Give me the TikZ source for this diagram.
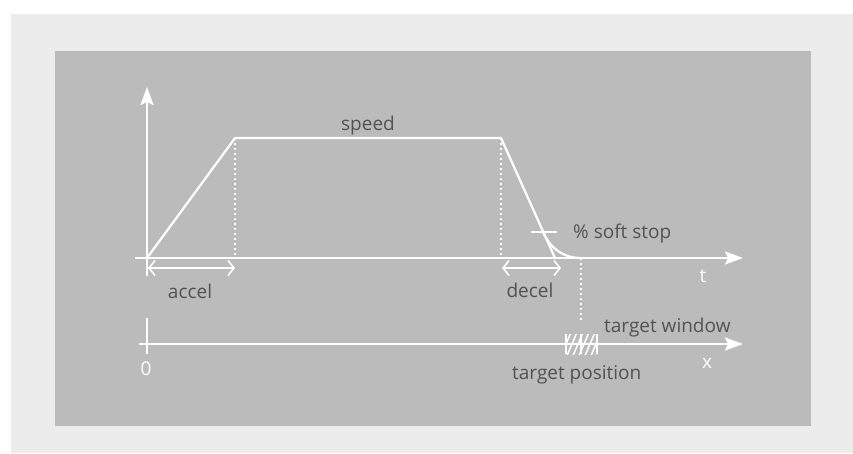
\documentclass[tikz,border=0pt]{standalone}
\usepackage{fontspec}
\setmainfont{Open Sans}
\usetikzlibrary{arrows.meta}
\definecolor{outerbg}{HTML}{ECECEC}
\definecolor{innerbg}{HTML}{BBBBBB}
\definecolor{labelgray}{HTML}{525252}
\tikzset{
  axisline/.style={draw=white, line width=2.2pt, -{Stealth[length=18pt,width=13pt,inset=3pt]}},
  plainline/.style={draw=white, line width=2.2pt},
  dotline/.style={draw=white, line width=2pt, dash pattern=on 2pt off 3pt},
  spanarrow/.style={draw=white, line width=1.6pt, {Straight Barb[length=6pt,width=15pt]}-{Straight Barb[length=6pt,width=15pt]}},
  lbl/.style={text=labelgray, font=\fontsize{19}{21}\selectfont, inner sep=0pt, anchor=base},
  wlbl/.style={text=white, font=\fontsize{19}{21}\selectfont, inner sep=0pt, anchor=base},
}
\begin{document}
\begin{tikzpicture}[x=1pt,y=-1pt]
\useasboundingbox (0,0) rectangle (853,453);
\fill[white] (0,0) rectangle (853,453);
\fill[outerbg] (11,14) rectangle (853,453);
\fill[innerbg] (55,51) rectangle (811,426);
% key points
\coordinate (o) at (147,258);
\coordinate (ytop) at (147,87);
\coordinate (ybot) at (147,276);
\coordinate (tstart) at (135,258);
\coordinate (tend) at (743,258);
\coordinate (a1) at (235,138);
\coordinate (a1b) at (235,258);
\coordinate (d1) at (501,138);
\coordinate (d1b) at (501,258);
\coordinate (d2) at (555,258);
\coordinate (s1) at (543,232);
\coordinate (s2) at (581,258);
\coordinate (s2b) at (581,322);
\coordinate (tk1) at (531,232);
\coordinate (tk2) at (557,232);
\coordinate (acl) at (148,268);
\coordinate (acr) at (235,268);
\coordinate (dcl) at (502,268);
\coordinate (dcr) at (561,268);
\coordinate (xstart) at (139,344);
\coordinate (xend) at (743,344);
\coordinate (x0t) at (147,318);
\coordinate (x0b) at (147,354);
% axes
\draw[axisline] (ybot) -- (ytop);
\draw[axisline] (tstart) -- (tend);
\draw[axisline] (xstart) -- (xend);
\draw[plainline] (x0t) -- (x0b);
% profile
\draw[plainline, line join=round] (o) -- (a1) -- (d1) -- (d2);
\draw[plainline] (s1) .. controls (548,244) and (560,258) .. (s2);
\draw[plainline] (tk1) -- (tk2);
% dotted lines
\draw[dotline] (a1) -- (a1b);
\draw[dotline] (d1) -- (d1b);
\draw[dotline] (s2) -- (s2b);
% span arrows
\draw[spanarrow] (acl) -- (acr);
\draw[spanarrow] (dcl) -- (dcr);
% hatched target window
\begin{scope}
\clip (566,334) rectangle (597,354);
\foreach \k in {0,...,10} {
  \draw[white, line width=1.5pt] (554+6*\k,358) -- (566+6*\k,330);
}
\end{scope}
\draw[white, line width=2pt] (566,334) -- (566,354);
\draw[white, line width=2pt] (581,334) -- (581,354);
\draw[white, line width=2pt] (597,334) -- (597,354);
% labels
\node[lbl] (speed) at (368,130) {speed};
\node[lbl] (accel) at (190,298) {accel};
\node[lbl] (decel) at (530,297) {decel};
\node[lbl, anchor=base west] (soft) at (573,238) {\% soft stop};
\node[lbl, anchor=base west] (twin) at (604,332) {target window};
\node[lbl, anchor=base west] (tpos) at (512,379) {target position};
\node[wlbl] (tlbl) at (703,282) {t};
\node[wlbl] (xlbl) at (707,368) {x};
\node[wlbl] (zero) at (146,375) {0};
\end{tikzpicture}
\end{document}
